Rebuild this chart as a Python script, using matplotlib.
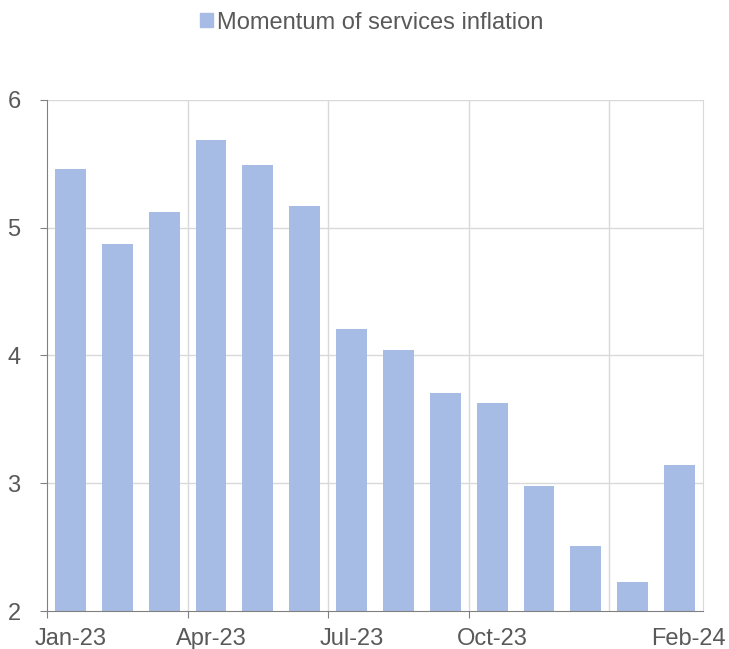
import matplotlib
matplotlib.use("Agg")
import matplotlib.pyplot as plt
from matplotlib.patches import Patch

months = ["Jan-23", "Feb-23", "Mar-23", "Apr-23", "May-23", "Jun-23", "Jul-23",
          "Aug-23", "Sep-23", "Oct-23", "Nov-23", "Dec-23", "Jan-24", "Feb-24"]
values = [5.46, 4.87, 5.12, 5.69, 5.49, 5.17, 4.21, 4.04, 3.71, 3.63, 2.98, 2.51, 2.23, 3.14]
label_months = ["Jan-23", "Apr-23", "Jul-23", "Oct-23", "Feb-24"]
series_name = "Momentum of services inflation"

plt.rcParams['font.family'] = ['Liberation Sans', 'DejaVu Sans']
txt = '#595959'
bar_c = '#a7bce4'
fs = 17

fig = plt.figure(figsize=(7.29, 6.49), dpi=100)
ax = fig.add_axes([0.0645, 0.0585, 0.8998, 0.7875])

x = [i + 0.5 for i in range(len(values))]
ax.bar(x, [v - 2 for v in values], bottom=2, width=0.66, color=bar_c, zorder=2)

ax.set_xlim(0, len(values))
ax.set_ylim(2, 6)
ax.set_yticks([2, 3, 4, 5, 6])
ax.tick_params(axis='y', labelsize=fs, colors='#808080', length=5, pad=14)
for t in ax.get_yticklabels():
    t.set_color(txt)

for y in [3, 4, 5, 6]:
    ax.axhline(y, color='#d9d9d9', lw=1, zorder=1)
for xv in [3, 6, 9, 12]:
    ax.axvline(xv, color='#d9d9d9', lw=1, zorder=1)

ax.set_xticks([0, 3, 6, 9])
ax.set_xticklabels([])
ax.tick_params(axis='x', which='major', length=5, colors='#808080')
pos = []
for m in label_months:
    i = months.index(m)
    pos.append(i + 0.5 + (0.2 if m == "Feb-24" else 0))
ax.set_xticks(pos, minor=True)
ax.set_xticklabels(label_months, minor=True)
ax.tick_params(axis='x', which='minor', length=0, labelsize=fs, labelcolor=txt, pad=12)

for s in ['left', 'bottom']:
    ax.spines[s].set_color('#808080')
ax.spines['right'].set_color('#d9d9d9')
ax.spines['top'].set_visible(False)

fig.legend(handles=[Patch(color=bar_c, label=series_name)], loc='upper center',
           bbox_to_anchor=(0.51, 1.015), frameon=False, fontsize=fs, labelcolor=txt,
           handlelength=0.55, handleheight=0.55, handletextpad=0.15)

fig.savefig("out.png", dpi=100)
